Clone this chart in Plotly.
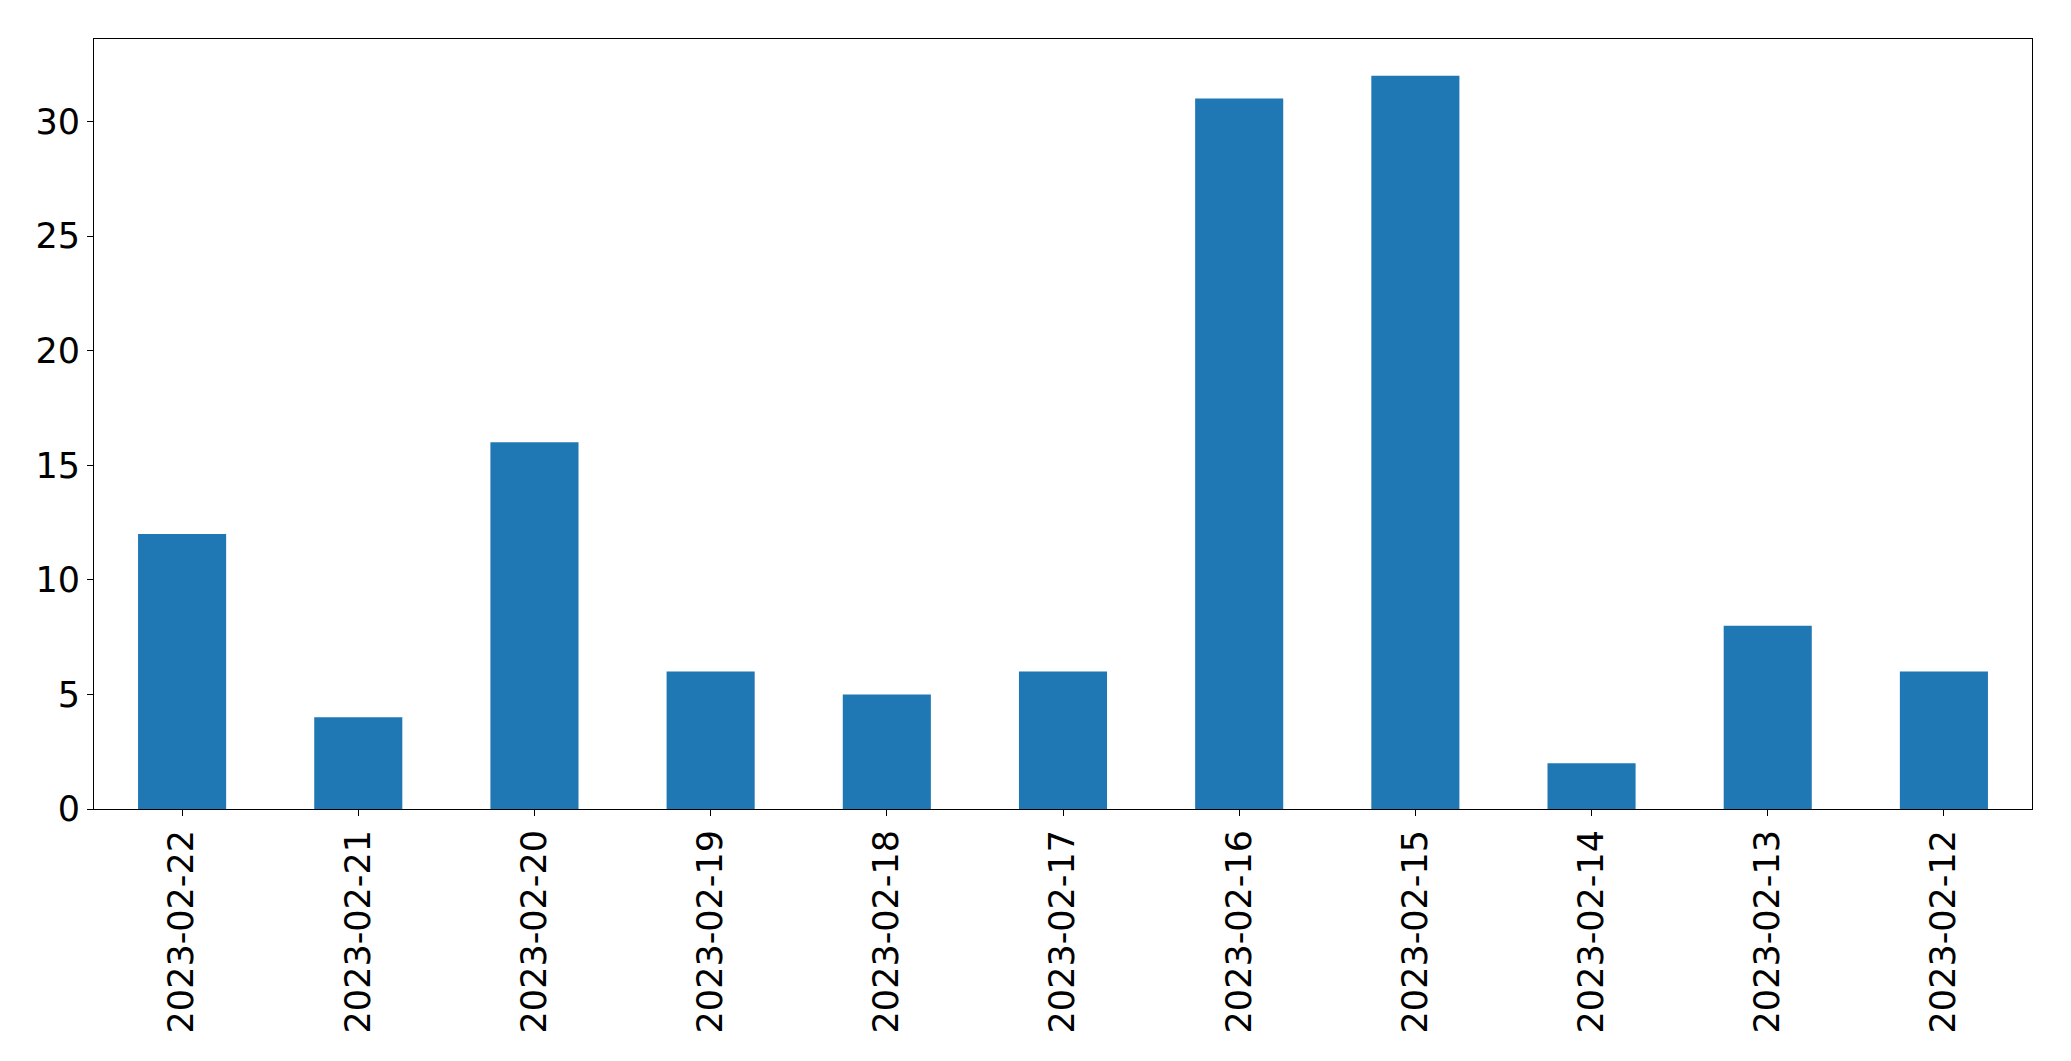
import plotly.graph_objects as go

dates = ["2023-02-22", "2023-02-21", "2023-02-20", "2023-02-19", "2023-02-18", "2023-02-17",
         "2023-02-16", "2023-02-15", "2023-02-14", "2023-02-13", "2023-02-12"]
counts = [12, 4, 16, 6, 5, 6, 31, 32, 2, 8, 6]

fig = go.Figure(go.Bar(x=dates, y=counts, marker_color="#1f77b4", marker_line_width=0))

fig.update_layout(
    width=2063, height=1053,
    margin=dict(l=86, r=39, t=31, b=252),
    paper_bgcolor="white", plot_bgcolor="white",
    font=dict(family="DejaVu Sans", size=35, color="black"),
    bargap=0.5,
    showlegend=False,
)
fig.update_xaxes(
    type="category", tickangle=-90, showgrid=False, zeroline=False,
    showline=True, linecolor="black", linewidth=1, mirror=True,
    ticks="outside", ticklen=6, tickcolor="black", range=[-0.5, 10.5],
)
fig.update_yaxes(
    range=[0, 33.6], dtick=5, showgrid=False, zeroline=False,
    showline=True, linecolor="black", linewidth=1, mirror=True,
    ticks="outside", ticklen=6, tickcolor="black",
)
fig.write_html("out.html")
